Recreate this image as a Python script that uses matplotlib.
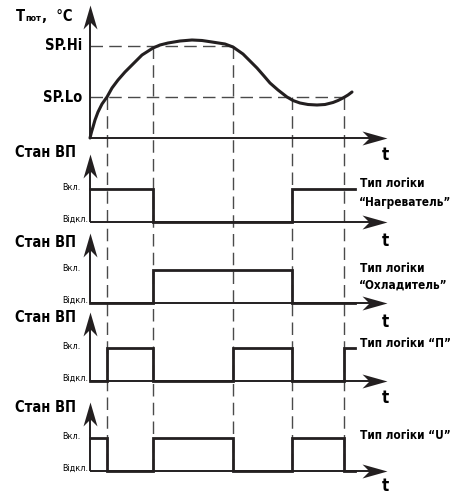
import numpy as np
import matplotlib
matplotlib.use('Agg')
import matplotlib.pyplot as plt
from matplotlib.path import Path

plt.rcParams['font.family'] = ['DejaVu Sans']
plt.rcParams['font.stretch'] = 'condensed'

# temperature curve (time units / temperature units)
curve_t = [0.0, 0.15, 0.3, 0.5, 0.8, 1.2, 1.7, 2.2, 2.8, 3.5, 4.2, 5.2, 6.3,
           7.0, 7.8, 9.0, 10.2, 11.2, 12.2, 13.5, 14.3, 15.3, 16.0, 16.7,
           17.4, 18.0, 18.8, 19.7, 20.3, 21.0, 21.8, 22.7, 23.5, 24.3, 24.8,
           25.3, 25.8, 26.2]
curve_T = [0, 6, 11, 18, 26, 34, 41, 50, 58, 66, 73, 83, 90,
           93, 95, 97, 98, 97.5, 96, 94, 91, 84, 77, 70,
           62, 55, 48, 41, 37.5, 35, 33.5, 33, 33.5, 35.5, 37.5,
           40, 43, 46]
sp_hi, sp_lo = 92, 41
sp_labels = ['SP.Hi', 'SP.Lo']

# moments where the curve crosses the set points
t_cross = [1.7, 6.3, 14.3, 20.2, 25.4]
t_axis_end = 29.7

# relay states (steps-post): time of change, state after it
heater_t = [0, 6.3, 20.2, 26.5]
heater_s = [1, 0, 1, 1]
cooler_t = [0, 6.3, 20.2, 26.5]
cooler_s = [0, 1, 0, 0]
p_t = [0, 1.7, 6.3, 14.3, 20.2, 25.4, 26.5]
p_s = [0, 1, 0, 1, 0, 1, 1]
u_t = [0, 1.7, 6.3, 14.3, 20.2, 25.4, 26.5]
u_s = [1, 0, 1, 0, 1, 0, 0]

state_label = 'Стан ВП'
on_label, off_label = 'Вкл.', 'Відкл.'
logic_title = 'Тип логіки'
logic_names = ['“Нагреватель”', '“Охладитель”', '“П”', '“U”']

INK = '#231f20'
DASH = '#4a4a4a'

# vertical layout (y grows downward, one unit = one pixel)
T_BASE, T_TIP = 138, 5
bases = [222, 303, 381, 471]
tips = [154, 233, 312, 402]
STEP_H = 33
state_lbl_y = [152, 242, 317, 407]
t_lbl_y = [160, 246, 327, 403, 491]

fig = plt.figure(figsize=(4.53, 4.94), dpi=100)
ax = fig.add_axes([0, 0, 1, 1])
ax.set_xlim(-9.0, 36.3)
ax.set_ylim(494, 0)
ax.axis('off')

# arrowheads as custom markers
up_head = Path([(0, 0), (-7, -24), (0, -17), (7, -24), (0, 0)],
               [Path.MOVETO, Path.LINETO, Path.LINETO, Path.LINETO, Path.CLOSEPOLY])
right_head = Path([(0, 0), (-25, 7), (-18, 0), (-25, -7), (0, 0)],
                  [Path.MOVETO, Path.LINETO, Path.LINETO, Path.LINETO, Path.CLOSEPOLY])
ms_up = 2 * 24 * 0.72
ms_right = 2 * 25 * 0.72


def axes_pair(base, tip, t_y):
    ax.plot([0, 0], [base, tip + 10], color=INK, lw=1.4, solid_capstyle='butt', zorder=3)
    ax.plot([0, t_axis_end - 1.0], [base, base], color=INK, lw=1.4, solid_capstyle='butt', zorder=3)
    ax.plot([0], [tip], marker=up_head, ms=ms_up, color=INK, mew=0, zorder=4)
    ax.plot([t_axis_end], [base], marker=right_head, ms=ms_right, color=INK, mew=0, zorder=4)
    ax.text(t_axis_end - 0.2, t_y, 't', fontsize=12, fontweight='bold',
            ha='center', va='baseline', color='black')


# dashed guide lines
ax.plot([0, t_cross[2]], [T_BASE - sp_hi] * 2, color=DASH, lw=1.0, dashes=(9, 4.5), zorder=2)
ax.plot([0, t_cross[4]], [T_BASE - sp_lo] * 2, color=DASH, lw=1.0, dashes=(9, 4.5), zorder=2)
start_levels = [sp_lo, sp_hi, sp_hi, sp_lo, sp_lo]
for tc, lv in zip(t_cross, start_levels):
    ax.plot([tc, tc], [T_BASE - lv, bases[-1]], color=DASH, lw=1.0, dashes=(9, 4.5), zorder=2)

# temperature panel
axes_pair(T_BASE, T_TIP, t_lbl_y[0])
ax.plot(curve_t, T_BASE - np.array(curve_T), color=INK, lw=2.2,
        solid_joinstyle='round', solid_capstyle='round', zorder=5)
for lbl, lv in zip(sp_labels, [sp_hi, sp_lo]):
    ax.text(-0.8, T_BASE - lv, lbl, fontsize=10.5, fontweight='bold',
            ha='right', va='center', color='black')

tt = ax.text(-7.4, 21, 'T', fontsize=10.5, fontweight='bold', ha='left', va='baseline')
sub = ax.annotate('пот', xy=(1, 0), xycoords=tt, xytext=(0.1, 0.4),
                  textcoords='offset points', fontsize=6.5, fontweight='bold',
                  ha='left', va='bottom')
ax.annotate(',  °C', xy=(1, 0), xycoords=sub, xytext=(0.6, -0.4),
            textcoords='offset points', fontsize=10.5, fontweight='bold',
            ha='left', va='bottom')

# relay state panels
states = [(heater_t, heater_s), (cooler_t, cooler_s), (p_t, p_s), (u_t, u_s)]
for i, (st, ss) in enumerate(states):
    base = bases[i]
    axes_pair(base, tips[i], t_lbl_y[i + 1])
    ax.plot(st, base - STEP_H * np.array(ss), drawstyle='steps-post', color=INK,
            lw=2.0, solid_joinstyle='miter', zorder=5)
    ax.text(-7.5, state_lbl_y[i], state_label, fontsize=10.5, fontweight='bold',
            ha='left', va='center', color='black')
    ax.text(-2.8, base - STEP_H - 2, on_label, fontsize=6.5, ha='left', va='center')
    ax.text(-2.8, base - 3, off_label, fontsize=6.5, ha='left', va='center')

kw = dict(fontsize=8.5, fontweight='bold', ha='left', va='center')
ax.text(27.0, 183, logic_title, **kw)
ax.text(26.9, 202, logic_names[0], **kw)
ax.text(27.0, 268, logic_title, **kw)
ax.text(26.9, 285, logic_names[1], **kw)
ax.text(27.0, 343, logic_title + ' ' + logic_names[2], **kw)
ax.text(27.0, 435, logic_title + ' ' + logic_names[3], **kw)

fig.savefig('out.png', dpi=100)
plt.close(fig)
